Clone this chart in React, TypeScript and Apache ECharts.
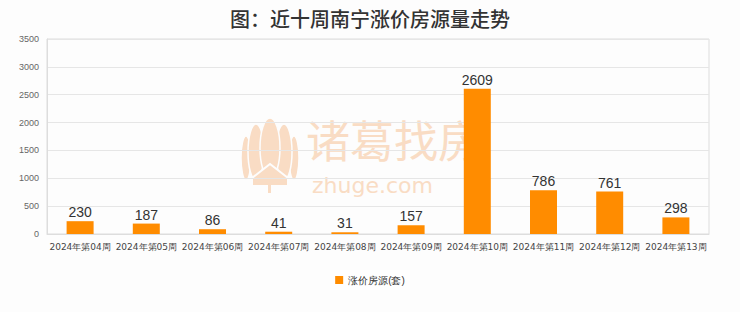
import React, { useEffect, useRef } from "react";
import * as echarts from "echarts";

const categories = ["2024年第04周", "2024年第05周", "2024年第06周", "2024年第07周", "2024年第08周", "2024年第09周", "2024年第10周", "2024年第11周", "2024年第12周", "2024年第13周"];
const values = [230, 187, 86, 41, 31, 157, 2609, 786, 761, 298];
const seriesName = "涨价房源(套)";
const titleText = "图：近十周南宁涨价房源量走势";

const wm = "#f9dcc4";

export default function App() {
  const ref = useRef<HTMLDivElement>(null);
  useEffect(() => {
    const chart = echarts.init(ref.current!, null, { renderer: "svg" });
    const petal = (cx: number, cy: number, rx: number, ry: number) => ({
      type: "ellipse",
      shape: { cx, cy, rx, ry },
      z: 0,
      silent: true,
      style: { fill: wm, stroke: "#fdfdfd", lineWidth: 1.5 },
    });
    chart.setOption({
      animation: false,
      backgroundColor: "#fdfdfd",
      title: {
        text: titleText,
        left: "center",
        top: 3,
        textStyle: { fontSize: 20, fontWeight: 500, color: "#333", fontFamily: "Noto Sans CJK SC" },
      },
      graphic: [
        petal(246, 158, 5, 22),
        petal(294, 158, 5, 22),
        petal(256, 152, 8, 28),
        petal(284, 152, 8, 28),
        petal(270, 148, 10, 30),
        {
          type: "polygon",
          z: 0,
          silent: true,
          shape: { points: [[252, 178], [270, 164], [288, 178], [288, 186], [252, 186]] },
          style: { fill: wm, stroke: "#fdfdfd", lineWidth: 2 },
        },
        {
          type: "rect",
          z: 0,
          silent: true,
          shape: { x: 268, y: 185, width: 3, height: 8 },
          style: { fill: wm },
        },
        {
          type: "text",
          left: 306,
          top: 116,
          z: 0,
          silent: true,
          style: { text: "诸葛找房", fontSize: 44, lineHeight: 46, fill: wm, fontFamily: "Noto Sans CJK SC" },
        },
        {
          type: "text",
          left: 312,
          top: 174,
          z: 0,
          silent: true,
          style: { text: "zhuge.com", fontSize: 22, lineHeight: 22, fill: wm, fontFamily: "DejaVu Sans" },
        },
      ],
      legend: {
        bottom: 22,
        left: "center",
        itemWidth: 8,
        itemHeight: 8,
        icon: "rect",
        backgroundColor: "#fff",
        textStyle: { fontSize: 10, color: "#333" },
        data: [seriesName],
      },
      grid: { left: 47, right: 31, top: 39, bottom: 78, show: true, borderColor: "#ddd", borderWidth: 1 },
      xAxis: {
        type: "category",
        data: categories,
        axisLine: { lineStyle: { color: "#ddd" } },
        axisTick: { show: false },
        axisLabel: { fontSize: 9, color: "#444", interval: 0, fontFamily: "DejaVu Sans" },
      },
      yAxis: {
        type: "value",
        min: 0,
        max: 3500,
        interval: 500,
        axisLine: { show: true, lineStyle: { color: "#ddd" } },
        splitLine: { lineStyle: { color: "#e6e6e6" } },
        axisLabel: { fontSize: 9, color: "#666", formatter: (v: number) => String(v) },
      },
      series: [
        {
          name: seriesName,
          type: "bar",
          z: 5,
          data: values,
          barWidth: 27,
          itemStyle: { color: "#ff8c00" },
          label: { show: true, position: "top", fontSize: 14, color: "#333", distance: 2 },
        },
      ],
    });
    return () => chart.dispose();
  }, []);
  return <div ref={ref} style={{ position: "fixed", left: 0, top: 0, width: 740, height: 312 }} />;
}
